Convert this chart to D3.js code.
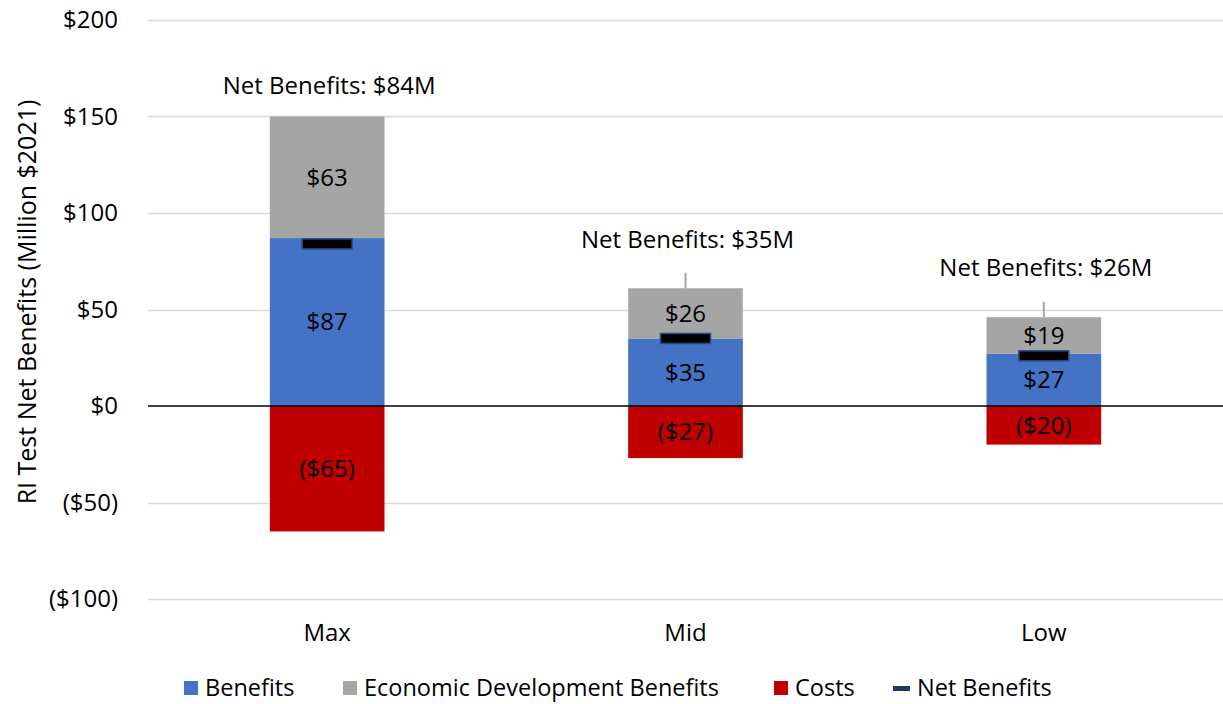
<!DOCTYPE html>
<html>
<head>
<meta charset="utf-8">
<script src="https://cdn.jsdelivr.net/npm/d3@7/dist/d3.min.js"></script>
<style>
  html, body { margin: 0; padding: 0; background: #fff; }
  svg { display: block; font-family: "Open Sans", "Lato", sans-serif; }
</style>
</head>
<body>
<svg id="chart" width="1223" height="704"></svg>
<script>
// Scenario categories and stacked components (Million $2021)
const categories = ["Max", "Mid", "Low"];
const benefits = [87, 35, 27];
const econDevBenefits = [63, 26, 19];
const costs = [-65, -27, -20];
const netBenefits = [84, 35, 26];
// Leader line tops above the stacked bars (data units), null where none is drawn
const leaderTops = [null, 69, 54];
// Where the "Net Benefits" captions sit, in data units
const captionAt = [166, 86, 71.5];
const yTicks = [-100, -50, 0, 50, 100, 150, 200];

const colors = {
  benefits: "#4472C4",
  econ: "#A5A5A5",
  costs: "#C00000",
  net: "#000000",
  netStroke: "#2F4A7F"
};

const FONT = "'Open Sans', Lato, sans-serif";
const FS = 24;
const svg = d3.select("#chart");
const margin = { left: 148, right: 0, top: 20, bottom: 105 };
const W = 1223, H = 704;

const x = d3.scaleBand()
  .domain(categories)
  .range([margin.left, W - margin.right])
  .paddingInner(0.68)
  .paddingOuter(0.34);

const y = d3.scaleLinear()
  .domain([-100, 200])
  .range([599, 20]);

const fmt = v => v < 0 ? `($${Math.abs(v)})` : `$${v}`;

// Gridlines
svg.append("g")
  .selectAll("line")
  .data(yTicks.filter(t => t !== 0))
  .join("line")
  .attr("x1", margin.left)
  .attr("x2", W)
  .attr("y1", d => Math.round(y(d)) + 0.5)
  .attr("y2", d => Math.round(y(d)) + 0.5)
  .attr("stroke", "#D9D9D9")
  .attr("stroke-width", 1.5);

// Y axis tick labels
const yAxis = d3.axisLeft(y).tickValues(yTicks).tickFormat(fmt).tickSize(0).tickPadding(0);
const yg = svg.append("g")
  .attr("transform", `translate(${margin.left - 30},0)`)
  .call(yAxis);
yg.select(".domain").remove();
yg.selectAll("text")
  .attr("font-size", FS)
  .attr("fill", "#000")
  .attr("font-family", FONT);

// Axis title
svg.append("text")
  .attr("transform", `translate(27,${302}) rotate(-90)`)
  .attr("text-anchor", "middle")
  .attr("dy", "0.35em")
  .attr("font-size", 25)
  .attr("fill", "#000")
  .text("RI Test Net Benefits (Million $2021)");

// Stacked segments
const rows = categories.map((c, i) => ({
  cat: c,
  segs: [
    { key: "benefits", y0: 0, y1: benefits[i], v: benefits[i] },
    { key: "econ", y0: benefits[i], y1: benefits[i] + econDevBenefits[i], v: econDevBenefits[i] },
    { key: "costs", y0: costs[i], y1: 0, v: costs[i] }
  ]
}));

const bw = x.bandwidth();

// Leader lines
svg.append("g")
  .selectAll("line")
  .data(categories.map((c, i) => ({ c, top: leaderTops[i], base: benefits[i] + econDevBenefits[i] }))
    .filter(d => d.top !== null))
  .join("line")
  .attr("x1", d => x(d.c) + bw / 2)
  .attr("x2", d => x(d.c) + bw / 2)
  .attr("y1", d => y(d.top))
  .attr("y2", d => y(d.base))
  .attr("stroke", "#A5A5A5")
  .attr("stroke-width", 2);

const barG = svg.append("g");
rows.forEach(r => {
  barG.selectAll(null)
    .data(r.segs)
    .join("rect")
    .attr("x", x(r.cat))
    .attr("width", bw)
    .attr("y", d => y(d.y1))
    .attr("height", d => y(d.y0) - y(d.y1))
    .attr("fill", d => colors[d.key]);
});

// Zero line
svg.append("line")
  .attr("x1", margin.left)
  .attr("x2", W)
  .attr("y1", y(0))
  .attr("y2", y(0))
  .attr("stroke", "#000")
  .attr("stroke-width", 1.5);

// Segment value labels
rows.forEach(r => {
  barG.selectAll(null)
    .data(r.segs)
    .join("text")
    .attr("x", x(r.cat) + bw / 2)
    .attr("y", d => y((d.y0 + d.y1) / 2))
    .attr("dy", "0.35em")
    .attr("text-anchor", "middle")
    .attr("font-size", FS)
    .attr("fill", "#000")
    .text(d => fmt(d.v));
});

// Net benefit markers
svg.append("g")
  .selectAll("rect")
  .data(categories.map((c, i) => ({ c, v: netBenefits[i] })))
  .join("rect")
  .attr("x", d => x(d.c) + bw / 2 - 25)
  .attr("width", 50)
  .attr("y", d => y(d.v) - 5)
  .attr("height", 10)
  .attr("fill", colors.net)
  .attr("stroke", colors.netStroke)
  .attr("stroke-width", 1.5);

// Net benefit captions
svg.append("g")
  .selectAll("text")
  .data(categories.map((c, i) => ({ c, v: netBenefits[i], at: captionAt[i] })))
  .join("text")
  .attr("x", d => x(d.c) + bw / 2 + 2)
  .attr("y", d => y(d.at))
  .attr("dy", "0.35em")
  .attr("text-anchor", "middle")
  .attr("font-size", FS)
  .attr("fill", "#000")
  .text(d => `Net Benefits: $${d.v}M`);

// Category labels
svg.append("g")
  .selectAll("text")
  .data(categories)
  .join("text")
  .attr("x", d => x(d) + bw / 2)
  .attr("y", 633)
  .attr("dy", "0.35em")
  .attr("text-anchor", "middle")
  .attr("font-size", FS)
  .attr("fill", "#000")
  .text(d => d);

// Legend
const legendItems = [
  { label: "Benefits", color: colors.benefits, type: "box", x: 184 },
  { label: "Economic Development Benefits", color: colors.econ, type: "box", x: 343 },
  { label: "Costs", color: colors.costs, type: "box", x: 774 },
  { label: "Net Benefits", color: "#1F3864", type: "dash", x: 893 }
];
const legendY = 688;
const lg = svg.append("g");
legendItems.forEach(it => {
  if (it.type === "box") {
    lg.append("rect").attr("x", it.x).attr("y", legendY - 7).attr("width", 14).attr("height", 14).attr("fill", it.color);
  } else {
    lg.append("rect").attr("x", it.x).attr("y", legendY - 2).attr("width", 17).attr("height", 5).attr("fill", it.color);
  }
  lg.append("text")
    .attr("x", it.x + (it.type === "box" ? 21 : 24))
    .attr("y", legendY)
    .attr("dy", "0.35em")
    .attr("font-size", 23.5)
    .attr("fill", "#000")
    .text(it.label);
});
</script>
</body>
</html>
